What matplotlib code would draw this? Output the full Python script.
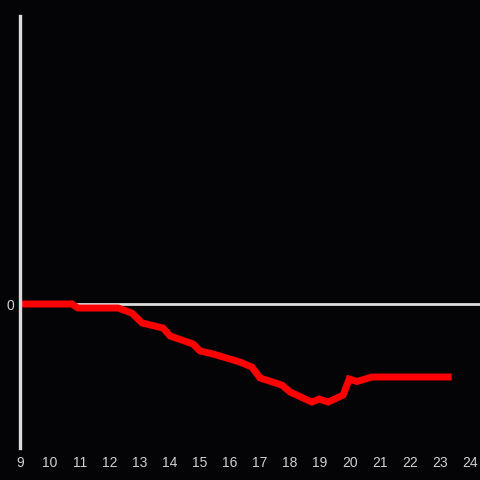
import matplotlib
matplotlib.use("Agg")
import matplotlib.pyplot as plt

# hour of day vs. cumulative change
hours = [9.0, 10.73, 10.93, 12.27, 12.73, 13.07, 13.77, 14.0, 14.77, 15.0,
         15.43, 16.33, 16.73, 17.0, 17.73, 18.0, 18.73, 18.97, 19.27, 19.77,
         19.97, 20.23, 20.73, 23.27]
values = [0.0, 0.0, -0.028, -0.028, -0.063, -0.132, -0.167, -0.222, -0.278, -0.326,
          -0.347, -0.403, -0.438, -0.514, -0.563, -0.611, -0.681, -0.660, -0.681, -0.632,
          -0.521, -0.538, -0.507, -0.507]
xticks = list(range(9, 25))

BG = "#040306"
AXIS = "#dcdcdc"

fig = plt.figure(figsize=(4.8, 4.8), dpi=100, facecolor=BG)
ax = fig.add_axes([20 / 480, 32 / 480, 460 / 480, 432 / 480], facecolor=BG)

ax.axhline(0, color=AXIS, linewidth=2, zorder=1)
ax.plot(hours, values, color="#ff0000", linewidth=5.0, solid_joinstyle="miter", zorder=2)

ax.set_xlim(9, 24.33)
ax.set_ylim(-1, 2)
ax.set_xticks(xticks)
ax.set_yticks([0])
ax.tick_params(axis="both", length=0, colors="#d0d0d0", labelsize=10)
ax.tick_params(axis="x", pad=6)
ax.tick_params(axis="y", pad=4)
for lbl in ax.get_xticklabels() + ax.get_yticklabels():
    lbl.set_fontfamily("Liberation Sans")

for side in ["top", "right", "bottom"]:
    ax.spines[side].set_visible(False)
ax.spines["left"].set_color(AXIS)
ax.spines["left"].set_linewidth(2.4)

fig.savefig("out.png", dpi=100, facecolor=BG)
